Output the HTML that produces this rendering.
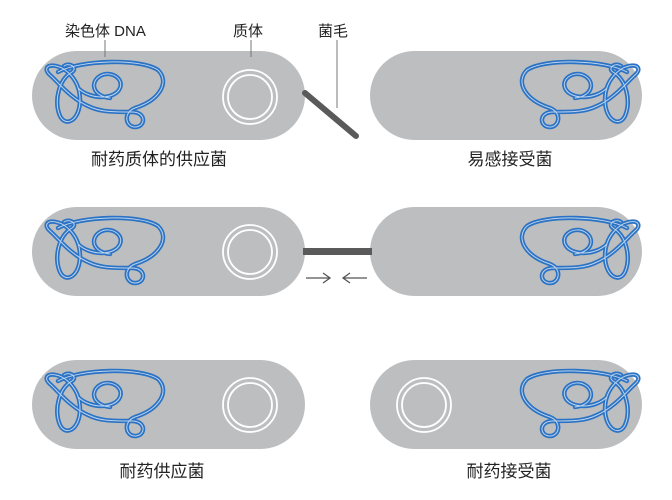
<!DOCTYPE html>
<html><head><meta charset="utf-8"><style>
body{margin:0;background:#fff}
svg{display:block}
text{font-family:"Liberation Sans","Noto Sans CJK SC",sans-serif;fill:#222}
</style></head><body>
<svg width="672" height="500" viewBox="0 0 672 500">
<defs>
<g id="dna" fill="none" stroke-linecap="round" stroke-linejoin="round">
<g stroke="#2a72c4" stroke-width="4.4">
<path id="dp" d="M58,72 C80,60 140,58 158,70 C170,82 160,100 135,108 C122,113 126,128 136,127 C146,126 146,112 132,112 C112,112 100,112 88,106 C70,98 58,82 50,75 C44,70 46,64 56,66 C66,68 80,80 80,100 C80,120 66,128 60,116 C54,102 58,80 72,72 C78,68 70,62 64,66 M78,88 C90,100 115,100 120,88 C124,78 110,70 100,76 C90,82 92,96 110,98"/>
</g>
<g stroke="#bcd3ee" stroke-width="1"><use href="#dp"/></g>
</g>
<g id="plas" fill="none" stroke="#fff" stroke-width="1.8"><circle r="27"/><circle r="22"/></g>
</defs>
<g fill="#bcbec0">
<rect x="32" y="51" width="273" height="89" rx="44.5"/>
<rect x="370" y="51" width="272" height="89" rx="44.5"/>
<rect x="32" y="207" width="273" height="89" rx="44.5"/>
<rect x="370" y="207" width="272" height="89" rx="44.5"/>
<rect x="32" y="360" width="273" height="89" rx="44.5"/>
<rect x="370" y="360" width="272" height="89" rx="44.5"/>
</g>
<line x1="305" y1="93" x2="356" y2="136" stroke="#5a5a5a" stroke-width="6" stroke-linecap="round"/>
<rect x="303" y="248" width="69" height="7" fill="#5a5a5a"/>
<use href="#dna"/>
<use href="#dna" transform="translate(685,0) scale(-1,1)"/>
<use href="#dna" transform="translate(0,156)"/>
<use href="#dna" transform="translate(685,156) scale(-1,1)"/>
<use href="#dna" transform="translate(0,309)"/>
<use href="#dna" transform="translate(685,309) scale(-1,1)"/>
<use href="#plas" transform="translate(250,97)"/>
<use href="#plas" transform="translate(250,252)"/>
<use href="#plas" transform="translate(250,405)"/>
<use href="#plas" transform="translate(424,405)"/>
<g stroke="#777" stroke-width="1">
<line x1="105" y1="40" x2="105" y2="57"/>
<line x1="251" y1="40" x2="251" y2="57"/>
<line x1="337" y1="40" x2="337" y2="108"/>
</g>
<g stroke="#555" stroke-width="1.3" fill="none">
<path d="M306,278 H330 M323,273 L330,278 L323,283"/>
<path d="M367,278 H343 M350,273 L343,278 L350,283"/>
</g>
<g font-size="15">
<text x="65" y="36">染色体 DNA</text>
<text x="233" y="36">质体</text>
<text x="318" y="36">菌毛</text>
</g>
<g font-size="17" text-anchor="middle">
<text x="159" y="165">耐药质体的供应菌</text>
<text x="510" y="165">易感接受菌</text>
<text x="162" y="477">耐药供应菌</text>
<text x="509" y="477">耐药接受菌</text>
</g>
</svg>
</body></html>
